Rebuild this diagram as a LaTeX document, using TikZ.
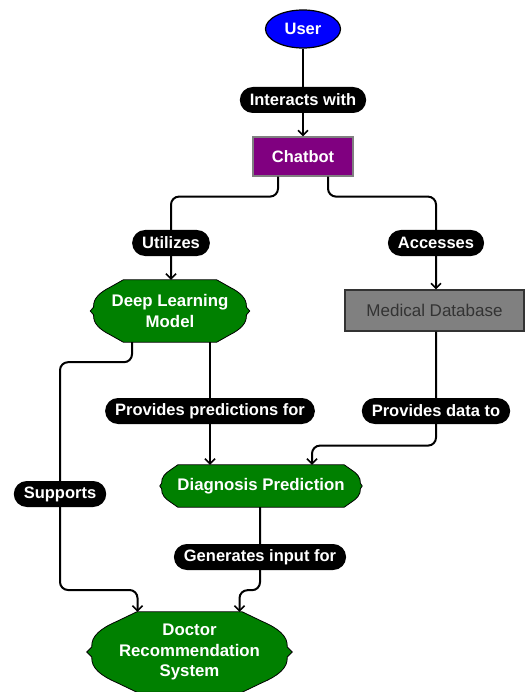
\documentclass[tikz,border=0pt]{standalone}
\usepackage{fontspec}
\setmainfont{Liberation Sans}
\usetikzlibrary{arrows.meta,calc,backgrounds,shapes.geometric}
\definecolor{dgreen}{HTML}{008000}
\definecolor{purp}{HTML}{800080}
\definecolor{mdgray}{HTML}{808080}
\definecolor{mdtext}{HTML}{333333}
\newcommand\blobshape[3]{%
  \path[blobstyle]
    ($(#1.north west)+(#2,0)$) -- ($(#1.north east)+(-#2,0)$)
    -- ($(#1.north east)+(-0.6*#2,0.12*#3)$)
    .. controls ($(#1.north east)+(-0.3*#2,0.2*#3)$) and ($(#1.north east)+(-0.08*#2,0.3*#3)$) .. ($(#1.north east)+(-0.1*#2,0.44*#3)$)
    -- (#1.east)
    -- ($(#1.south east)+(-0.1*#2,-0.44*#3)$)
    .. controls ($(#1.south east)+(-0.08*#2,-0.3*#3)$) and ($(#1.south east)+(-0.3*#2,-0.2*#3)$) .. ($(#1.south east)+(-0.6*#2,-0.12*#3)$)
    -- ($(#1.south east)+(-#2,0)$) -- ($(#1.south west)+(#2,0)$)
    -- ($(#1.south west)+(0.6*#2,-0.12*#3)$)
    .. controls ($(#1.south west)+(0.3*#2,-0.2*#3)$) and ($(#1.south west)+(0.08*#2,-0.3*#3)$) .. ($(#1.south west)+(0.1*#2,-0.44*#3)$)
    -- (#1.west)
    -- ($(#1.north west)+(0.1*#2,0.44*#3)$)
    .. controls ($(#1.north west)+(0.08*#2,0.3*#3)$) and ($(#1.north west)+(0.3*#2,0.2*#3)$) .. ($(#1.north west)+(0.6*#2,0.12*#3)$)
    -- cycle;}
\tikzset{
  lbl/.style={font=\fontsize{16.5}{19}\selectfont\bfseries},
  blobstyle/.style={fill=dgreen,draw=black,line width=0.8pt,line join=miter},
  blobnode/.style={font=\fontsize{16.8}{20.5}\selectfont\bfseries,text=white,inner sep=0pt,align=center},
  pill/.style={lbl,fill=black,text=white,rounded corners=13pt,inner xsep=10pt,inner ysep=0pt,minimum height=26pt},
  edge/.style={draw=black,line width=2pt,rounded corners=8pt,-{Straight Barb[length=5pt,width=10pt,line width=1.6pt]}},
}
\begin{document}
\begin{tikzpicture}[x=1pt,y=-1pt]
\useasboundingbox (0,0) rectangle (526,692);
% nodes
\node[ellipse,fill=blue,draw=black,line width=1.2pt,minimum width=75pt,minimum height=38pt,inner sep=0pt,lbl,text=white] (user) at (303,29) {User};
\node[rectangle,fill=purp,draw=gray,line width=1.2pt,minimum width=100pt,minimum height=39pt,inner sep=0pt,lbl,text=white] (chat) at (303,156.5) {Chatbot};
\node[blobnode,minimum width=159pt,minimum height=62pt] (dl) at (170,311) {Deep Learning\\Model};
\node[rectangle,fill=mdgray,draw=mdtext,line width=1.2pt,minimum width=179pt,minimum height=41pt,inner sep=0pt,font=\fontsize{17}{20}\selectfont,text=mdtext] (md) at (434.5,310.5) {Medical Database};
\node[blobnode,minimum width=202pt,minimum height=42pt] (dp) at (261,486) {Diagnosis Prediction};
\node[blobnode,minimum width=205pt,minimum height=80pt] (dr) at (189.5,652) {Doctor\\Recommendation\\System};
\begin{scope}[on background layer]
  \fill[white] (0,0) rectangle (526,692);
  \blobshape{dl}{33}{62}
  \blobshape{dp}{18}{42}
  \blobshape{dr}{50}{80}
\end{scope}
% coordinates
\coordinate (chl) at ($(chat.south)+(-25,0)$);
\coordinate (chr) at ($(chat.south)+(25,0)$);
\coordinate (dli) at ($(dl.north)+(1,0)$);
\coordinate (mdi) at ($(md.north)+(1.5,0)$);
\coordinate (mdo) at ($(md.south)+(1.5,0)$);
\coordinate (dlo) at ($(dl.south)+(40,0)$);
\coordinate (dls) at ($(dl.south)+(-38,0)$);
\coordinate (dpi) at ($(dp.north)+(51,0)$);
\coordinate (dpo) at ($(dp.south)+(-1,0)$);
\coordinate (dri) at ($(dr.north)+(-52,0)$);
\coordinate (dro) at ($(dr.north)+(50,0)$);
\coordinate (sup) at (60,590);
% edges
\draw[edge] (user) -- (chat);
\draw[edge] (chl) -- ++(0,20) -| (dli);
\draw[edge] (chr) -- ++(0,20) -| (mdi);
\draw[edge] (dlo) -- (dlo |- dp.north);
\draw[edge] (mdo) -- ++(0,114) -| (dpi);
\draw[edge] (dls) -- ++(0,20) -| (sup) -| (dri);
\draw[edge] (dpo) -- ++(0,83) -| (dro);
% labels
\node[pill] (l1) at (303,100) {Interacts with};
\node[pill] (l2) at (171,243) {Utilizes};
\node[pill] (l3) at (436,243) {Accesses};
\node[pill] (l4) at (210,411) {Provides predictions for};
\node[pill] (l5) at (436,411) {Provides data to};
\node[pill] (l6) at (60,494) {Supports};
\node[pill] (l7) at (260,557) {Generates input for};
\end{tikzpicture}
\end{document}
